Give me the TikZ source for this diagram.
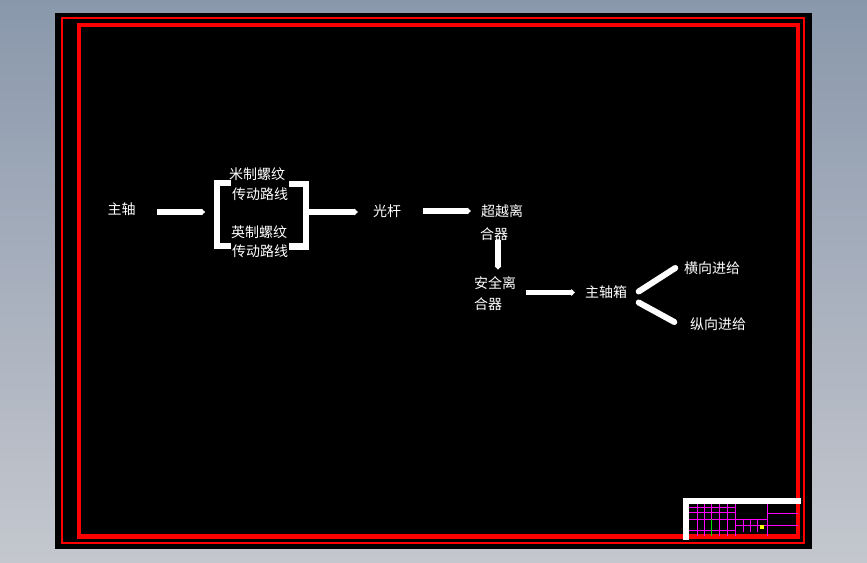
\documentclass[tikz,border=0pt]{standalone}
\usepackage{fontspec}
\newfontfamily\cjk{Noto Sans CJK SC}
\usetikzlibrary{positioning,arrows.meta}
\definecolor{bgtop}{RGB}{138,152,172}
\definecolor{bgbot}{RGB}{196,199,206}
\definecolor{cadred}{RGB}{255,0,0}
\definecolor{cadmag}{RGB}{255,0,255}
\definecolor{cadgreen}{RGB}{0,230,0}
\definecolor{cadyellow}{RGB}{255,255,0}
\tikzset{
lbl/.style={
  text=white,
  font=\cjk\fontsize{14pt}{20pt}\selectfont,
  inner sep=0pt,
  text height=11.5pt,
  text depth=1pt
  },
flow/.style={
  draw=white,
  line width=5.5pt,
  -{Latex[round,length=4pt,width=8.5pt]}
  },
branch/.style={
  draw=white,
  line width=6pt,
  line cap=round
  },
brk/.style={
  draw=white,
  line width=6.5pt
  },
tbline/.style={
  draw=cadmag,
  line width=0.8pt
  }
}

\begin{document}
\begin{tikzpicture}[x=1pt,y=-1pt]

\useasboundingbox (0,0) rectangle (867,562);
\shade[top color=bgtop,bottom color=bgbot] (0,0) rectangle (867,562);
\fill[black] (55,13) rectangle (812,549);

% drawing frame
\draw[cadred,line width=1.3pt] (62,18) rectangle (804,543);
\draw[cadred,line width=4.3pt] (78.7,24.7) rectangle (798,536.5);

% title block
\fill[white] (683,498) rectangle (801,504);
\fill[white] (683,498) rectangle (689,540);
\foreach \x in {697,704,719,727,735,767}
  \draw[tbline] (\x,504) -- (\x,536);
\draw[tbline] (711,504) -- (711,519);
\foreach \y in {507,512,530}
  \draw[tbline] (689,\y) -- (735,\y);
\draw[tbline] (689,519) -- (767,519);
\draw[tbline] (735,525) -- (798,525);
\draw[tbline] (767,513) -- (798,513);
\foreach \x in {743,750,757}
  \draw[tbline] (\x,519) -- (\x,532);
\draw[cadgreen,line width=0.9pt] (711,519) -- (711,536);
\fill[cadyellow] (760,525) rectangle (764,529);

% labels
\node[lbl] (spindle) at (121.5,209) {主轴};
\node[lbl] (metric) at (257,174) {米制螺纹};
\node[lbl] (metric2) at (260,194) {传动路线};
\node[lbl] (inch) at (259,232) {英制螺纹};
\node[lbl] (inch2) at (260,251) {传动路线};
\node[lbl] (rod) at (387,211) {光杆};
\node[lbl] (over) at (502,211) {超越离};
\node[lbl,anchor=north west] (over2) at ([xshift=-1pt,yshift=-10pt]over.south west) {合器};
\node[lbl] (safe) at (495,283) {安全离};
\node[lbl,anchor=north west] (safe2) at ([yshift=-8pt]safe.south west) {合器};
\node[lbl] (box) at (606,292.5) {主轴箱};
\node[lbl] (cross) at (712,268) {横向进给};
\node[lbl] (feed) at (718,324) {纵向进给};

% brackets
\draw[brk] (231,183) -- (217,183) -- (217,246) -- (231,246);
\draw[brk] (289,184) -- (306,184) -- (306,246.5) -- (289,246.5);
\coordinate (lbr) at (217,212);
\coordinate (rbr) at (306,212);

% connectors
\draw[flow,shorten <=21.5pt,shorten >=12pt] (spindle.east |- lbr) -- (lbr);
\draw[flow,shorten >=15pt] (rbr) -- (rod.west |- rbr);
\draw[flow,shorten <=22pt,shorten >=10pt] (rod.east) -- (over.west);
\draw[flow,shorten >=7pt] ([xshift=4pt]over2.south) -- ([xshift=4pt]over2.south |- safe.north);
\draw[flow,shorten <=10pt,shorten >=10pt] (safe.east |- box.west) -- (box.west);
\draw[branch] ([xshift=11.5pt,yshift=1pt]box.east) -- ([xshift=-8.5pt]cross.west);
\draw[branch] ([xshift=11.5pt,yshift=-10pt]box.east) -- ([xshift=-15.5pt,yshift=2pt]feed.west);

\end{tikzpicture}
\end{document}
